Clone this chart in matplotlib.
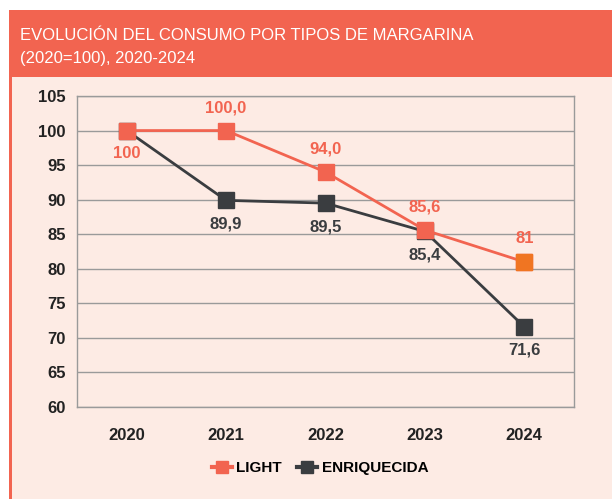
import matplotlib.pyplot as plt
from matplotlib.patches import Rectangle
from matplotlib.lines import Line2D

years = ["2020", "2021", "2022", "2023", "2024"]
light = [100, 100.0, 94.0, 85.6, 81]
enriquecida = [100, 89.9, 89.5, 85.4, 71.6]
light_labels = ["100", "100,0", "94,0", "85,6", "81"]
enr_labels = ["", "89,9", "89,5", "85,4", "71,6"]

RED = "#F26450"
ORANGE = "#F07522"
DARK = "#3A3D40"
BG = "#FDEBE4"
W, H = 612, 499
FONT = ["Liberation Sans", "DejaVu Sans"]

plt.rcParams["font.family"] = FONT

fig = plt.figure(figsize=(W / 100, H / 100), dpi=100)
fig.patch.set_facecolor("white")

# panel background + header band + left border
fig.add_artist(Rectangle((9 / W, 0), 1, 1 - 10 / H, transform=fig.transFigure,
                         facecolor=BG, edgecolor="none", zorder=0))
fig.add_artist(Rectangle((9 / W, 1 - 77 / H), 1, 67 / H, transform=fig.transFigure,
                         facecolor=RED, edgecolor="none", zorder=1))
fig.add_artist(Rectangle((9 / W, 0), 2.5 / W, 1 - 77 / H, transform=fig.transFigure,
                         facecolor=RED, edgecolor="none", zorder=1))

fig.text(20 / W, 1 - 35 / H, "EVOLUCIÓN DEL CONSUMO POR TIPOS DE MARGARINA",
         color="white", fontsize=12, va="center", ha="left")
fig.text(20 / W, 1 - 59 / H, "(2020=100), 2020-2024",
         color="white", fontsize=12, va="center", ha="left")

ax = fig.add_axes([77 / W, 1 - 407 / H, (574 - 77) / W, (407 - 96) / H])
ax.set_facecolor(BG)
x = list(range(len(years)))

ax.plot(x, enriquecida, color=DARK, lw=2, marker="s", ms=11, zorder=3)
ax.plot(x, light, color=RED, lw=2, marker="s", ms=11, zorder=4)
ax.plot([x[-1]], [light[-1]], color=ORANGE, marker="s", ms=11, lw=0, zorder=5)

ax.set_xlim(-0.5, 4.5)
ax.set_ylim(60, 105)
ax.set_yticks(range(60, 106, 5))
ax.set_xticks(x)
ax.set_xticklabels(years)
ax.grid(axis="y", color="#9a9a9a", lw=1)
ax.set_axisbelow(True)
for sp in ax.spines.values():
    sp.set_color("#9a9a9a")
    sp.set_linewidth(1)
ax.tick_params(length=0, labelsize=12, colors="#222222")
ax.tick_params(axis="y", pad=8)
ax.tick_params(axis="x", pad=15)
for lab in ax.get_xticklabels() + ax.get_yticklabels():
    lab.set_fontweight("bold")

# value labels
for i, (v, t) in enumerate(zip(light, light_labels)):
    dy = -16.5 if i == 0 else 16.5
    ax.annotate(t, (i, v), xytext=(0, dy), textcoords="offset points",
                ha="center", va="center", color=RED, fontsize=12, fontweight="bold")
for i, (v, t) in enumerate(zip(enriquecida, enr_labels)):
    if t:
        ax.annotate(t, (i, v), xytext=(0, -17), textcoords="offset points",
                    ha="center", va="center", color=DARK, fontsize=12, fontweight="bold")

handles = [Line2D([], [], color=RED, lw=3, marker="s", ms=8),
           Line2D([], [], color=DARK, lw=3, marker="s", ms=8)]
fig.legend(handles, ["LIGHT", "ENRIQUECIDA"], loc="center", ncol=2,
           bbox_to_anchor=(320 / W, 1 - 468 / H), frameon=False,
           prop={"weight": "bold", "size": 11},
           handlelength=1.3, columnspacing=1.0, handletextpad=0.3)

fig.savefig("out.png", dpi=100, facecolor=fig.get_facecolor())
